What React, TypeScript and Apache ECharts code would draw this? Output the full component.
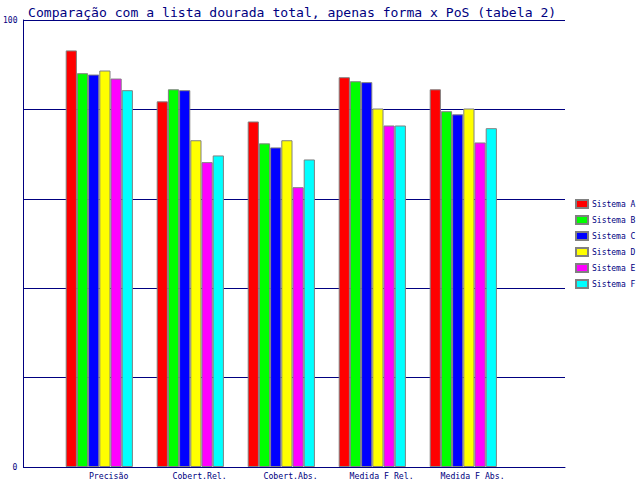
import React, { useEffect, useRef } from "react";
import * as echarts from "echarts";

const categories = ["Precisão", "Cobert.Rel.", "Cobert.Abs.", "Medida F Rel.", "Medida F Abs."];
const seriesNames = ["Sistema A", "Sistema B", "Sistema C", "Sistema D", "Sistema E", "Sistema F"];
const seriesColors = ["#ff0000", "#00ff00", "#0000ff", "#ffff00", "#ff00ff", "#00ffff"];
const sistemaA = [93.2, 81.8, 77.3, 87.2, 84.5];
const sistemaB = [88.1, 84.5, 72.4, 86.3, 79.6];
const sistemaC = [87.8, 84.3, 71.5, 86.1, 78.9];
const sistemaD = [88.7, 73.1, 73.1, 80.2, 80.2];
const sistemaE = [86.9, 68.2, 62.6, 76.4, 72.6];
const sistemaF = [84.3, 69.7, 68.8, 76.4, 75.8];
const seriesValues = [sistemaA, sistemaB, sistemaC, sistemaD, sistemaE, sistemaF];
const yLabelsShown = [0, 100];

const NAVY = "#000080";
const MONO = "'DejaVu Sans Mono', monospace";

export default function App() {
  const ref = useRef<HTMLDivElement>(null);
  useEffect(() => {
    document.body.style.margin = "0";
    const chart = echarts.init(ref.current!, null, { renderer: "svg" });
    chart.setOption({
      animation: false,
      backgroundColor: "#ffffff",
      title: {
        text: "Comparação com a lista dourada total, apenas forma x PoS (tabela 2)",
        left: 23,
        top: 1,
        textStyle: { color: NAVY, fontFamily: MONO, fontSize: 13.1, fontWeight: "normal" },
      },
      legend: {
        orient: "vertical",
        left: 575,
        top: 199,
        itemWidth: 12,
        itemHeight: 8,
        itemGap: 6,
        padding: 0,
        icon: "rect",
        data: seriesNames,
        textStyle: { color: NAVY, fontFamily: MONO, fontSize: 8, lineHeight: 8, padding: [0, 0, 0, -1] },
      },
      grid: [
        { left: 20, top: 20, right: 75, bottom: 13 },
        { left: 53.8, top: 20, width: 455, bottom: 13 },
      ],
      xAxis: [
        {
          gridIndex: 0,
          type: "value",
          min: 0,
          max: 1,
          axisLine: { show: true, lineStyle: { color: NAVY, width: 1 } },
          axisTick: { show: false },
          axisLabel: { show: false },
          splitLine: { show: false },
        },
        {
          gridIndex: 1,
          type: "category",
          data: categories,
          axisLine: { show: false },
          axisTick: { show: false },
          axisLabel: {
            color: NAVY,
            fontFamily: MONO,
            fontSize: 8.2,
            margin: 5,
            padding: [0, 0, 0, 18.6],
          },
        },
      ],
      yAxis: [
        {
          gridIndex: 0,
          type: "value",
          min: 0,
          max: 100,
          interval: 20,
          axisLine: { show: true, lineStyle: { color: NAVY, width: 1 } },
          axisTick: { show: false },
          axisLabel: {
            color: NAVY,
            fontFamily: MONO,
            fontSize: 8,
            margin: 6,
            formatter: (v: number) => (yLabelsShown.includes(v) ? String(v) : ""),
          },
          splitLine: { show: true, lineStyle: { color: NAVY, width: 1 } },
        },
        {
          gridIndex: 1,
          type: "value",
          min: 0,
          max: 100,
          show: false,
          splitLine: { show: false },
        },
      ],
      series: seriesNames.map((name, i) => ({
        name,
        type: "bar",
        xAxisIndex: 1,
        yAxisIndex: 1,
        data: seriesValues[i],
        barWidth: 11.2,
        barGap: "0%",
        itemStyle: { color: seriesColors[i], borderColor: "#808080", borderWidth: 1 },
      })),
    });
    return () => chart.dispose();
  }, []);
  return <div ref={ref} style={{ width: 640, height: 480 }} />;
}
